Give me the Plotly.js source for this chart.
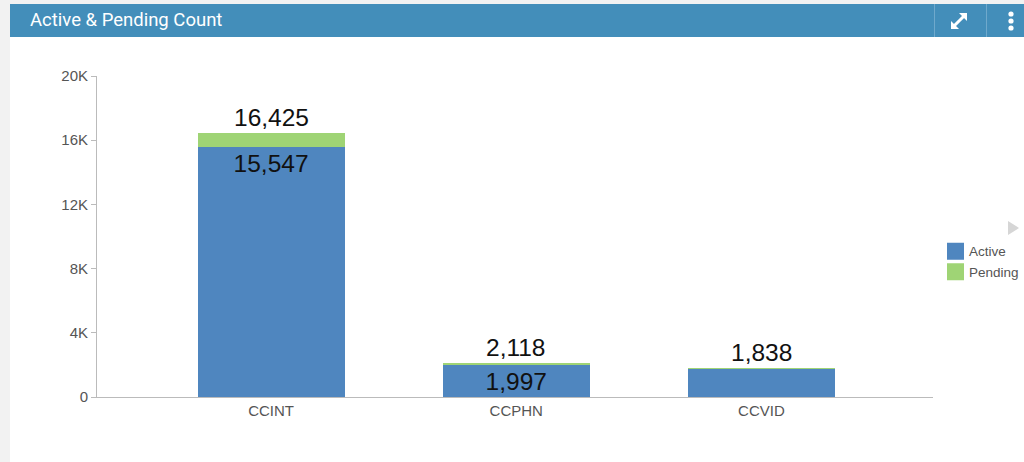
<!DOCTYPE html>
<html>
<head>
<meta charset="utf-8">
<script src="https://cdn.plot.ly/plotly-3.0.1.min.js"></script>
<style>
html,body{margin:0;padding:0;width:1024px;height:462px;overflow:hidden;background:#fff;}
#strip{position:absolute;left:0;top:0;width:10px;height:462px;background:#f2f2f2;}
#topstrip{position:absolute;left:0;top:0;width:1024px;height:4px;background:#f2f2f2;}
#header{position:absolute;left:10px;top:4px;width:1014px;height:33px;background:#438eba;z-index:5;
 font-family:Roboto,"Open Sans",sans-serif;color:#fff;}
#title{position:absolute;left:20px;top:5px;font-size:18.5px;}
.sep{position:absolute;top:0;width:1px;height:33px;background:#6fa9cc;}
#chart{position:absolute;left:0;top:0;width:1024px;height:462px;}
#tri{position:absolute;left:1008px;top:221px;width:0;height:0;border-top:7px solid transparent;border-bottom:7px solid transparent;border-left:11px solid #d6d6d6;z-index:5;}
</style>
</head>
<body>
<div id="chart"></div>
<div id="strip"></div>
<div id="topstrip"></div>
<div id="header">
  <div id="title">Active &amp; Pending Count</div>
  <div class="sep" style="left:924px"></div>
  <div class="sep" style="left:976px"></div>
  <svg style="position:absolute;left:938px;top:6px" width="22" height="22" viewBox="0 0 22 22">
    <g stroke="#fff" stroke-width="3" fill="none" stroke-linecap="square">
      <line x1="5" y1="17" x2="17" y2="5"/>
    </g>
    <polygon points="11,3 19,3 19,11" fill="#fff"/>
    <polygon points="3,11 3,19 11,19" fill="#fff"/>
  </svg>
  <svg style="position:absolute;left:996px;top:6px" width="10" height="24" viewBox="0 0 10 24">
    <circle cx="5" cy="4" r="2.6" fill="#fff"/>
    <circle cx="5" cy="11" r="2.6" fill="#fff"/>
    <circle cx="5" cy="18" r="2.6" fill="#fff"/>
  </svg>
</div>
<div id="tri"></div>
<script>
const categories = ["CCINT", "CCPHN", "CCVID"];
const activeValues = [15547, 1997, 1738];
const pendingValues = [878, 121, 100];
const yTickVals = [0, 4000, 8000, 12000, 16000, 20000];
const yTickText = ["0", "4K", "8K", "12K", "16K", "20K"];

const fmt = v => v.toLocaleString("en-US");
const totals = activeValues.map((v, i) => v + pendingValues[i]);
const activeText = activeValues.map(v => v >= 1900 ? fmt(v) : "");
const FONT = "Liberation Sans, Arial, sans-serif";

const traces = [
  {
    type: "bar", name: "Active", x: categories, y: activeValues,
    marker: {color: "#4f86bf"}, width: 0.6,
    text: activeText, textposition: "inside", insidetextanchor: "end",
    textfont: {family: FONT, size: 24.5, color: "#111"},
    constraintext: "none", hoverinfo: "none"
  },
  {
    type: "bar", name: "Pending", x: categories, y: pendingValues,
    marker: {color: "#9fd475"}, width: 0.6, textposition: "none", hoverinfo: "none"
  }
];

const annotations = categories.map((c, i) => ({
  x: c, y: totals[i], xref: "x", yref: "y", text: fmt(totals[i]),
  showarrow: false, yanchor: "bottom", yshift: 0,
  font: {family: FONT, size: 24.5, color: "#111"}
}));

const layout = {
  width: 1024, height: 462,
  margin: {l: 97, r: 91, t: 76, b: 65, pad: 0, autoexpand: false},
  barmode: "stack",
  paper_bgcolor: "#fff", plot_bgcolor: "#fff",
  showlegend: true,
  legend: {x: 0.9952, y: 0.421, xanchor: "left", yanchor: "middle", traceorder: "normal",
    font: {family: FONT, size: 13.5, color: "#555"},
    itemwidth: 30, tracegroupgap: 4},
  xaxis: {range: [-0.71, 2.70], showgrid: false, zeroline: false,
    showline: true, linecolor: "#bbb", linewidth: 1, ticks: "",
    tickfont: {family: FONT, size: 15, color: "#555"},
    fixedrange: true},
  yaxis: {range: [0, 20000], tickvals: yTickVals, ticktext: yTickText,
    showgrid: false, zeroline: false, showline: true, linecolor: "#bbb", linewidth: 1,
    ticks: "outside", ticklen: 5, tickcolor: "#bbb",
    tickfont: {family: FONT, size: 15, color: "#555"},
    fixedrange: true},
  annotations: annotations
};

Plotly.newPlot("chart", traces, layout, {displayModeBar: false, staticPlot: true}).then(() => {
  document.querySelectorAll(".legend .legendpoints path").forEach(p => {
    const r = p.getBoundingClientRect();
    const b = p.getBBox();
    const scale = r.width / (b.width || 1) || 1;
    const cxScreen = (r.left + r.right) / 2;
    const dx = (955.5 - cxScreen) / scale;
    const lx = b.x + b.width / 2 + dx;
    const ly = b.y + b.height / 2;
    const h = 8.5 / scale;
    p.setAttribute("d", `M${lx - h},${ly - h}H${lx + h}V${ly + h}H${lx - h}Z`);
  });
});
</script>
</body>
</html>
